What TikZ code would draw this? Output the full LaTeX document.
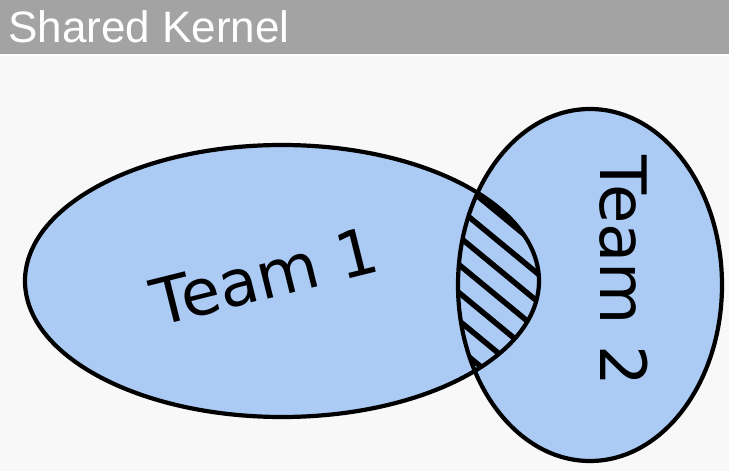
\documentclass[tikz,border=0pt]{standalone}
\usepackage{fontspec}
\setmainfont{Liberation Sans}
\newfontfamily\teamfont{DejaVu Sans}
\usetikzlibrary{calc}
\definecolor{barGray}{HTML}{A3A3A3}
\definecolor{pageGray}{HTML}{F8F8F8}
\definecolor{teamBlue}{HTML}{ABCBF5}

\begin{document}
\begin{tikzpicture}[
    x = 1pt, y = -1pt,
    outline/.style = {draw=black, line width=4.2pt},
    hatch/.style = {draw=black, line width=5.5pt},
    team/.style = {font=\teamfont\fontsize{64}{64}\selectfont, inner sep=0pt}
  ]
  \useasboundingbox (0,0) rectangle (729,471);
  % background and title bar
  \fill[pageGray] (0,0) rectangle (729,471);
  \fill[barGray] (0,0) rectangle (729,54);
  \draw[white, line width=1.5pt] (0,55) -- (729,55);
  \node[anchor=base west, text=white, inner sep=0pt,
    font=\fontsize{44}{44}\selectfont] (title) at (8,42) {Shared Kernel};

  % the two teams
  \fill[teamBlue] (282,281) ellipse [x radius=257, y radius=136];
  \fill[teamBlue] (590,285) ellipse [x radius=132, y radius=176];

  % shared part
  \begin{scope}
    \clip (590,285) ellipse [x radius=132, y radius=176];
    \clip (282,281) ellipse [x radius=257, y radius=136];
    \foreach \k in {-4,...,8}
      \draw[hatch] ($(400,160)+(0,28*\k)$) -- ++(160,132);
  \end{scope}

  \draw[outline] (282,281) ellipse [x radius=257, y radius=136];
  \draw[outline] (590,285) ellipse [x radius=132, y radius=176];

  \node[team, rotate=14] (team1) at (265,276) {Team 1};
  \node[team, rotate=-90] (team2) at (624,271) {Team 2};
\end{tikzpicture}
\end{document}
